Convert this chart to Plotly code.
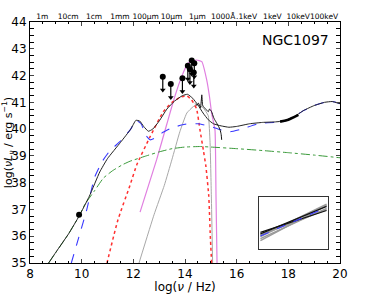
import numpy as np
import plotly.graph_objects as go

# ---------------- data (log nu, log nuLnu) ----------------
total_x = [8.72, 9.0, 9.5, 9.9, 10.3, 10.7, 11.0, 11.5, 11.9, 12.1, 12.25, 12.4, 12.58, 12.75,
           13.0, 13.3, 13.6, 13.9, 14.1, 14.3, 14.5, 14.7, 14.9, 15.1, 15.4, 15.7, 16.0,
           16.5, 17.0, 17.5, 17.8, 18.2, 18.6, 19.0, 19.4, 19.7, 20.0]
total_y = [35.0, 35.4, 36.1, 36.75, 37.5, 38.4, 38.9, 39.5, 40.0, 40.33, 40.3, 40.1, 39.92, 40.0,
           40.3, 40.75, 41.05, 41.25, 41.3, 41.15, 40.9, 40.6, 40.35, 40.2, 40.12, 40.07, 40.1,
           40.2, 40.25, 40.27, 40.3, 40.45, 40.7, 40.88, 41.0, 41.03, 40.95]

agn_x = [9.6, 9.9, 10.2, 10.5, 10.8, 11.1, 11.5, 11.9, 12.1, 12.3, 12.5, 12.65, 12.8, 13.1, 13.5,
         14.0, 14.5, 15.0, 15.4, 15.75, 16.2, 16.9, 17.5, 17.8, 18.2, 18.6, 19.0, 19.4, 19.7, 20.0]
agn_y = [35.0, 36.0, 37.0, 38.2, 38.8, 39.2, 39.55, 40.0, 40.33, 40.2, 39.75, 39.6, 39.65, 39.85, 40.05,
         40.18, 40.2, 40.1, 39.97, 39.9, 40.0, 40.22, 40.25, 40.28, 40.45, 40.7, 40.88, 41.0, 41.03, 40.95]

jet_x = [8.72, 9.5, 9.9, 10.13, 10.5, 10.84, 11.2, 11.6, 11.87, 12.5, 13.0, 13.5, 14.0, 14.6, 15.0,
         16.0, 17.0, 18.0, 19.0, 20.0]
jet_y = [35.0, 36.1, 36.75, 37.2, 37.7, 38.17, 38.45, 38.68, 38.8, 39.0, 39.15, 39.27, 39.33, 39.35, 39.33,
         39.27, 39.2, 39.12, 39.03, 38.93]

dust_x = [10.98, 11.4, 11.87, 12.13, 12.65, 13.16, 13.5, 13.8, 14.05, 14.25, 14.45, 14.58, 14.71,
          14.81, 14.92, 14.98, 15.03]
dust_y = [35.0, 36.6, 37.9, 38.66, 39.72, 40.65, 41.0, 41.18, 41.25, 41.1, 40.75, 39.97, 39.22,
          38.6, 37.5, 36.0, 35.0]

star_x = [12.22, 12.8, 13.2, 13.49, 13.8, 14.07, 14.32, 14.5, 14.7, 14.9, 14.97, 15.02, 15.07]
star_y = [35.0, 36.8, 37.9, 38.85, 39.9, 40.6, 40.84, 40.9, 40.8, 40.5, 39.5, 37.5, 35.0]

host_x = [12.26, 12.9, 13.3, 13.6, 13.87, 14.12, 14.45, 14.65, 14.84, 14.95, 15.03, 15.16, 15.2, 15.24]
host_y = [36.9, 38.85, 40.2, 41.2, 41.96, 42.47, 42.58, 42.52, 41.84, 41.2, 40.6, 39.97, 37.5, 35.0]

spec_x = [14.4, 14.45, 14.52, 14.6, 14.65, 14.68, 14.71, 14.8, 14.9, 14.95, 15.03, 15.1, 15.15,
          15.23, 15.3, 15.36, 15.4, 15.42]
spec_y = [40.95, 40.9, 40.97, 40.8, 41.28, 40.9, 40.84, 40.75, 40.65, 40.75, 40.65, 40.45, 40.35,
          40.22, 40.1, 39.97, 39.8, 39.6]

xray_x = [17.68, 18.0, 18.39]
xray_y = [40.28, 40.35, 40.53]

det_x = [9.9]
det_y = [36.8]

ul_x = [13.14, 13.45, 13.90, 14.11, 14.26, 14.36, 14.19, 14.34]
ul_y = [41.96, 41.68, 41.90, 42.37, 42.56, 42.46, 42.24, 42.11]
ul_len = 0.5

# top axis: wavelengths / energies
top_wl_m = [1, 0.1, 0.01, 1e-3, 1e-4, 1e-5, 1e-6, 1e-7]
top_wl_txt = ["1m", "10cm", "1cm", "1mm", "100μm", "10μm", "1μm", "1000Å"]
top_e_keV = [0.1, 1, 10, 100]
top_e_txt = [".1keV", "1keV", "10keV", "100keV"]

# inset: power-law slopes (normalized inset coordinates)
inset_x = [0.0, 1.0]
inset_black = [[0.32, 0.74], [0.29, 0.82]]
inset_grey = [[0.16, 0.84], [0.20, 0.78], [0.24, 0.86], [0.27, 0.76]]
inset_blue = [0.25, 0.80]

c = 2.998e8
h_keV = 4.1357e-18
top_vals = [np.log10(c / w) for w in top_wl_m] + [np.log10(e / h_keV) for e in top_e_keV]
top_txt = top_wl_txt + top_e_txt

fig = go.Figure()

def line(x, y, color, dash="solid", width=1.0, xa="x", ya="y"):
    fig.add_trace(go.Scatter(x=x, y=y, mode="lines", xaxis=xa, yaxis=ya,
                             line=dict(color=color, dash=dash, width=width, shape="spline",
                                       smoothing=0.4),
                             showlegend=False, hoverinfo="skip"))

line(star_x, star_y, "#a8a8a8", width=1.0)
line(host_x, host_y, "#e07fe0", width=1.2)
line(jet_x, jet_y, "#3a9a3a", dash="dashdot", width=1.0)
line(dust_x, dust_y, "#ff3030", dash="dot", width=1.5)
line(agn_x, agn_y, "#3838ff", dash="dash", width=1.1)
line(total_x, total_y, "#222222", width=1.0)
line(spec_x, spec_y, "#111111", width=1.0)
line(xray_x, xray_y, "#000000", width=2.6)

fig.add_trace(go.Scatter(x=det_x, y=det_y, mode="markers",
                         marker=dict(color="black", size=6), showlegend=False, hoverinfo="skip"))
fig.add_trace(go.Scatter(x=ul_x, y=ul_y, mode="markers",
                         marker=dict(color="black", size=6),
                         error_y=dict(type="data", symmetric=False, array=[0] * len(ul_y),
                                      arrayminus=[ul_len] * len(ul_y), color="black",
                                      thickness=1.2, width=0),
                         showlegend=False, hoverinfo="skip"))
fig.add_trace(go.Scatter(x=ul_x, y=[v - ul_len for v in ul_y], mode="markers",
                         marker=dict(color="black", size=5, symbol="triangle-down"),
                         showlegend=False, hoverinfo="skip"))

# invisible trace registering the top (wavelength/energy) axis
fig.add_trace(go.Scatter(x=top_vals, y=[None] * len(top_vals), mode="markers", xaxis="x2",
                         marker=dict(opacity=0), showlegend=False, hoverinfo="skip"))

# inset
for yy in inset_grey:
    line(inset_x, yy, "#9a9a9a", width=1.5, xa="x3", ya="y3")
for yy in inset_black:
    line(inset_x, yy, "#111111", width=1.2, xa="x3", ya="y3")
line(inset_x, inset_blue, "#3838ff", dash="dash", width=1.1, xa="x3", ya="y3")

font = "DejaVu Sans, sans-serif"
fig.update_layout(
    width=373, height=294,
    margin=dict(l=30, r=33, t=22, b=31, autoexpand=False),
    paper_bgcolor="white", plot_bgcolor="white",
    font=dict(family=font, color="black", size=12),
    xaxis=dict(range=[8, 20], dtick=2, tick0=8, ticks="inside", ticklen=4, tickwidth=1,
               showline=True, linecolor="black", linewidth=1, mirror="allticks",
               showgrid=False, zeroline=False, tickfont=dict(size=12),
               minor=dict(dtick=0.5, ticks="inside", ticklen=2, tickcolor="black"),
               title=dict(text="log(<i>ν</i> / Hz)", font=dict(size=12), standoff=2)),
    yaxis=dict(range=[35, 44], dtick=1, ticks="inside", ticklen=4, tickwidth=1,
               showline=True, linecolor="black", linewidth=1, mirror="allticks",
               showgrid=False, zeroline=False, tickfont=dict(size=12),
               minor=dict(dtick=0.25, ticks="inside", ticklen=2, tickcolor="black"),
               title=dict(text="log(<i>νL</i><sub><i>ν</i></sub> / erg s<sup>−1</sup>)",
                          font=dict(size=11), standoff=2)),
    xaxis2=dict(overlaying="x", side="top", range=[8, 20], tickvals=top_vals, ticktext=top_txt,
                ticks="", showline=False, showgrid=False, zeroline=False, tickangle=0,
                tickfont=dict(size=7.5), ticklabelstandoff=1),
    xaxis3=dict(domain=[0.739, 0.961], anchor="y3", range=[-0.02, 1.02], showticklabels=False,
                ticks="", showline=True, linecolor="#333333", linewidth=1, mirror=True,
                showgrid=False, zeroline=False),
    yaxis3=dict(domain=[0.058, 0.274], anchor="x3", range=[0, 1], showticklabels=False,
                ticks="", showline=True, linecolor="#333333", linewidth=1, mirror=True,
                showgrid=False, zeroline=False),
    annotations=[dict(text="NGC1097", xref="paper", yref="paper", x=0.97, y=0.925,
                      xanchor="right", yanchor="middle", showarrow=False,
                      font=dict(size=14, family=font))],
)

fig.write_html("out.html", config={"displayModeBar": False},
               post_script="document.body.style.margin='0';")
